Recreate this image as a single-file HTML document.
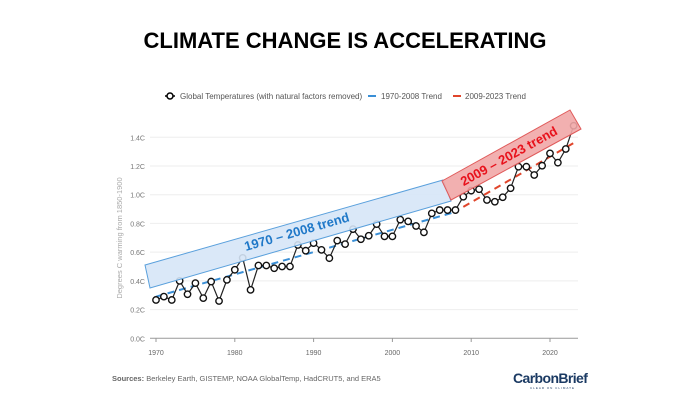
<!DOCTYPE html>
<html><head><meta charset="utf-8"><style>
body{margin:0;background:#fff;width:678px;height:410px;overflow:hidden;font-family:"Liberation Sans",sans-serif}
</style></head><body>
<svg id="chart" width="678" height="410" xmlns="http://www.w3.org/2000/svg">
<text x="345" y="48" text-anchor="middle" font-size="22" font-weight="bold" fill="#000">CLIMATE CHANGE IS ACCELERATING</text>
<g font-size="8" fill="#555">
<g><line x1="165" y1="96" x2="175" y2="96" stroke="#000" stroke-width="1.5"/><circle cx="170" cy="96" r="3" fill="#fff" stroke="#000" stroke-width="1.5"/><text x="180" y="99">Global Temperatures (with natural factors removed)</text></g>
<g><line x1="368" y1="96" x2="376" y2="96" stroke="#3a8fd6" stroke-width="2"/><text x="381" y="99">1970-2008 Trend</text></g>
<g><line x1="453" y1="96" x2="461" y2="96" stroke="#e0452b" stroke-width="2"/><text x="465" y="99">2009-2023 Trend</text></g>
</g>
<text transform="translate(122,238) rotate(-90)" text-anchor="middle" font-size="7.5" fill="#aaa">Degrees C warming from 1850-1900</text>
<g id="grid"></g><g id="yt"></g><g id="xt"></g><g id="series"></g>
<g id="boxes"></g>
<text x="112" y="381" font-size="7.5" fill="#666"><tspan font-weight="bold">Sources:</tspan> Berkeley Earth, GISTEMP, NOAA GlobalTemp, HadCRUT5, and ERA5</text>
<g><text x="513" y="383" font-size="14" font-weight="bold" fill="#1b3a63" letter-spacing="-0.6">CarbonBrief</text><text x="530" y="389" font-size="3" fill="#1b3a63" letter-spacing="1">CLEAR ON CLIMATE</text></g>
</svg>
<script>
const years=[];for(let y=1970;y<=2023;y++)years.push(y);
const temps=[0.267,0.29,0.267,0.40,0.307,0.384,0.28,0.395,0.26,0.407,0.477,0.56,0.337,0.507,0.507,0.488,0.50,0.50,0.65,0.61,0.663,0.616,0.558,0.68,0.656,0.76,0.69,0.714,0.795,0.71,0.71,0.826,0.814,0.782,0.738,0.87,0.893,0.893,0.893,0.986,1.028,1.038,0.963,0.951,0.982,1.045,1.195,1.195,1.137,1.202,1.288,1.223,1.318,1.48];
const trend1Years=[1970,2008];const trend1Vals=[0.29,0.88];
const trend2Years=[2009,2023];const trend2Vals=[0.915,1.36];
const yTicks=[0,0.2,0.4,0.6,0.8,1.0,1.2,1.4];const yTickLabels=["0.0C","0.2C","0.4C","0.6C","0.8C","1.0C","1.2C","1.4C"];
const xTicks=[1970,1980,1990,2000,2010,2020];
const NS="http://www.w3.org/2000/svg";
const X=y=>156+(y-1970)*7.88;const Y=v=>338.3-v*143.6;
function mk(t,a,p){const e=document.createElementNS(NS,t);for(const k in a)e.setAttribute(k,a[k]);p.appendChild(e);return e;}
const grid=document.getElementById('grid'),yt=document.getElementById('yt'),xt=document.getElementById('xt'),s=document.getElementById('series');
yTicks.forEach((v,i)=>{
 const l=mk('line',{x1:150,x2:578,y1:Y(v),y2:Y(v),stroke:v===0?'#999':'#eee','stroke-width':1},grid);
 
 
 const t=mk('text',{x:145,y:Y(v)+3,'text-anchor':'end','font-size':7,fill:'#777'},yt);t.textContent=yTickLabels[i];
 
 
});
xTicks.forEach(y=>{
 mk('line',{x1:X(y),x2:X(y),y1:338,y2:342,stroke:'#999'},xt);
 const t=mk('text',{x:X(y),y:355,'text-anchor':'middle','font-size':7,fill:'#666'},xt);t.textContent=y;
 
 
});
const t1=mk('line',{x1:X(trend1Years[0]),y1:Y(trend1Vals[0]),x2:X(trend1Years[1]),y2:Y(trend1Vals[1]),stroke:'#3a8fd6','stroke-width':2,'stroke-dasharray':'7,5'},s);


const t2=mk('line',{x1:X(trend2Years[0]),y1:Y(trend2Vals[0]),x2:X(trend2Years[1]),y2:Y(trend2Vals[1]),stroke:'#e0452b','stroke-width':2,'stroke-dasharray':'7,5'},s);


const pl=mk('polyline',{points:years.map((y,i)=>X(y)+','+Y(temps[i])).join(' '),fill:'none',stroke:'#222','stroke-width':1.2},s);


years.forEach((y,i)=>{
 const c=mk('circle',{cx:X(y),cy:Y(temps[i]),r:3.2,fill:'#fff',stroke:'#111','stroke-width':1.4},s);
 
 
});
const b=document.getElementById('boxes');
const bb=mk('polygon',{points:'145,265 443,180 451,201 150,288',fill:'#d6e6f7','fill-opacity':0.9,stroke:'#5aa0dc','stroke-width':1},b);


const bt=mk('text',{x:298,y:236,'text-anchor':'middle','font-size':13,'font-weight':'bold',fill:'#1f78c8',transform:'rotate(-16 298 236)'},b);bt.textContent='1970 – 2008 trend';


const rb=mk('polygon',{points:'442,181 570,110 581,129 451,200',fill:'#f1a7a7','fill-opacity':0.9,stroke:'#e05a5a','stroke-width':1},b);


const rt=mk('text',{x:511,y:160,'text-anchor':'middle','font-size':13,'font-weight':'bold',fill:'#e8111b',transform:'rotate(-29 511 160)'},b);rt.textContent='2009 – 2023 trend';


</script>
</body></html>
